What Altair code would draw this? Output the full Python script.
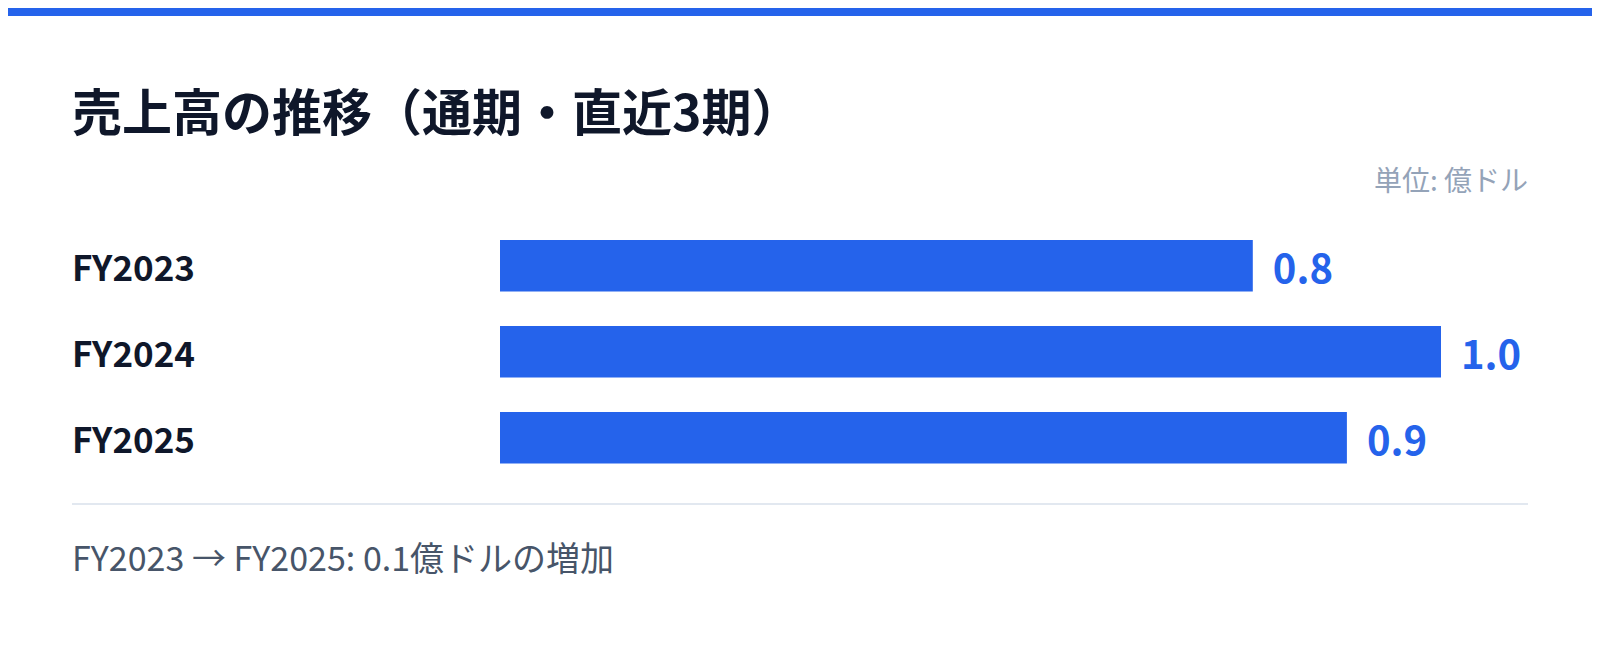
import altair as alt
import pandas as pd

# ---- data ----
years = ["FY2023", "FY2024", "FY2025"]
values = [0.8, 1.0, 0.9]
title_text = "売上高の推移（通期・直近3期）"
unit_text = "単位: 億ドル"
footer_text = f"{years[0]} → {years[-1]}: {values[-1] - values[0]:.1f}億ドルの増加"

BLUE = "#2563eb"
FONT = "Noto Sans CJK JP"
W, H = 1584, 631

df = pd.DataFrame({"year": years, "value": values})
one = pd.DataFrame({"title": [title_text], "unit": [unit_text], "footer": [footer_text]})

xscale = alt.Scale(domain=[0, 1], range=[492, 1433], zero=True, nice=False)
yscale = alt.Scale(domain=years, range=[214.8, 472.8], paddingInner=0.4, paddingOuter=0.2)

Y = alt.Y("year:N", scale=yscale, sort=years, axis=None, title=None)

bars = alt.Chart(df).mark_bar(color=BLUE, cornerRadius=0).encode(
    x=alt.X("value:Q", scale=xscale, axis=None),
    y=Y,
)

ylabels = alt.Chart(df).mark_text(
    align="left", baseline="middle", dy=4, font=FONT, fontSize=35,
    fontWeight="bold", color="#0f172a"
).encode(
    x=alt.value(64),
    y=Y,
    text="year:N",
)

vals = alt.Chart(df).mark_text(
    align="left", baseline="middle", dx=20, dy=5, font=FONT, fontSize=40,
    fontWeight="bold", color=BLUE
).encode(
    x=alt.X("value:Q", scale=xscale, axis=None),
    y=Y,
    text=alt.Text("value:Q", format=".1f"),
)

band = alt.Chart(one).mark_rect(color=BLUE).encode(
    x=alt.value(0), x2=alt.value(W), y=alt.value(0), y2=alt.value(8)
)

title = alt.Chart(one).mark_text(
    align="left", baseline="middle", font=FONT, fontSize=50, fontWeight="bold",
    color="#0f172a"
).encode(x=alt.value(64), y=alt.value(107.5), text="title:N")

unit = alt.Chart(one).mark_text(
    align="right", baseline="middle", font=FONT, fontSize=28, color="#94a3b8"
).encode(x=alt.value(1520), y=alt.value(174.5), text="unit:N")

sep = alt.Chart(one).mark_rule(color="#e2e8f0", strokeWidth=2).encode(
    x=alt.value(64), x2=alt.value(1520), y=alt.value(496)
)

footer = alt.Chart(one).mark_text(
    align="left", baseline="middle", font=FONT, fontSize=34, color="#475569"
).encode(x=alt.value(64), y=alt.value(552.5), text="footer:N")

chart = alt.layer(band, title, unit, bars, ylabels, vals, sep, footer).properties(
    width=W, height=H, padding=0, autosize=alt.AutoSizeParams(type="none"),
    background="white",
).configure_view(stroke=None)

chart.save("out.html", embed_options={"renderer": "svg", "actions": False})
